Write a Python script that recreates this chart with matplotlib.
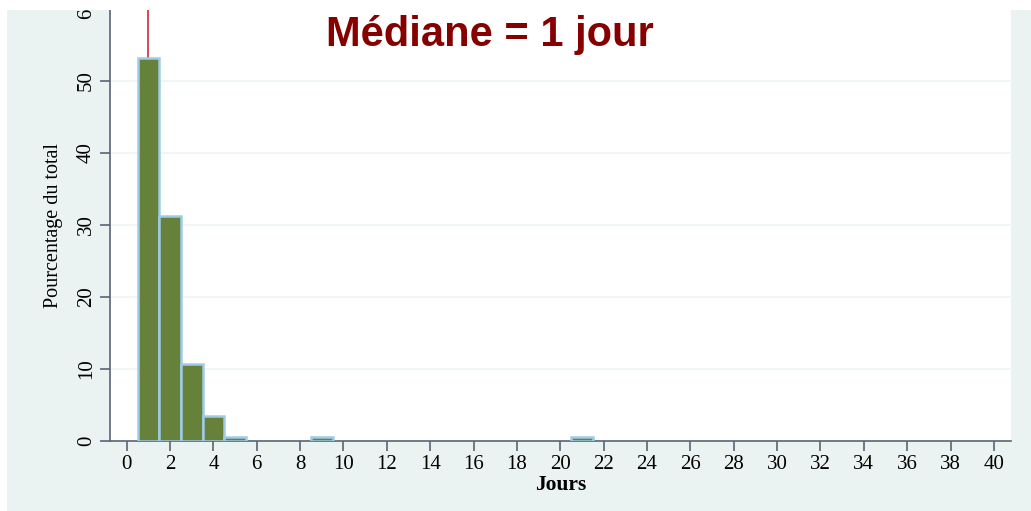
import matplotlib
matplotlib.use("Agg")
import matplotlib.pyplot as plt
from matplotlib.patches import Rectangle

# histogram of durations (days) -> percentage of total
jours = [1, 2, 3, 4, 5, 9, 21]
pourcentage = [53.2, 31.2, 10.7, 3.5, 0.5, 0.5, 0.5]
mediane = 1
xticks = list(range(0, 41, 2))
yticks = [0, 10, 20, 30, 40, 50, 60]

fig = plt.figure(figsize=(10.31, 5.11), dpi=100, facecolor="white")
# light panel behind the plot region
fig.patches.append(Rectangle((7 / 1031, 0), 1 - 7 / 1031, 1 - 10 / 511,
                             transform=fig.transFigure, facecolor="#EAF2F2",
                             edgecolor="none", zorder=-5))

ax = fig.add_axes([110 / 1031, 70 / 511, 901 / 1031, 432 / 511])
ax.set_facecolor("white")
ax.bar(jours, pourcentage, width=1.0, color="#668139", edgecolor="#9FCBE6",
       linewidth=1.8, zorder=3)
ax.axvline(mediane, color="#D6455C", linewidth=1.4, zorder=2)

ax.set_xlim(-0.77, 40.79)
ax.set_ylim(0, 60)
ax.set_xticks(xticks)
ax.set_yticks(yticks)
ax.grid(axis="y", color="#EDF3F3", linewidth=1.2, zorder=0)
for s in ("top", "right"):
    ax.spines[s].set_visible(False)
for s in ("left", "bottom"):
    ax.spines[s].set_color("#5B6478")
    ax.spines[s].set_linewidth(1.2)
ax.tick_params(colors="#5B6478", length=7, width=1.2, labelcolor="black",
               labelsize=15, pad=3)
for lab in ax.get_xticklabels() + ax.get_yticklabels():
    lab.set_family("Liberation Serif")
for lab in ax.get_yticklabels():
    lab.set_rotation(90)
    lab.set_va("center")

ax.set_xlabel("Jours", family="Liberation Serif", fontsize=15.5,
              fontweight="bold", labelpad=1)
ax.set_ylabel("Pourcentage du total", family="Liberation Serif", fontsize=14.5,
              labelpad=10)

fig.text(490 / 1031, 1 - 35 / 511, "Médiane = 1 jour", color="#870000",
         fontsize=30, fontweight="bold", family="Liberation Sans",
         ha="center", va="center")

# the source image is cropped at the top edge
fig.patches.append(Rectangle((0, 1 - 10 / 511), 1, 10 / 511,
                             transform=fig.transFigure, facecolor="white",
                             edgecolor="none", zorder=10))

fig.savefig("out.png", dpi=100)
